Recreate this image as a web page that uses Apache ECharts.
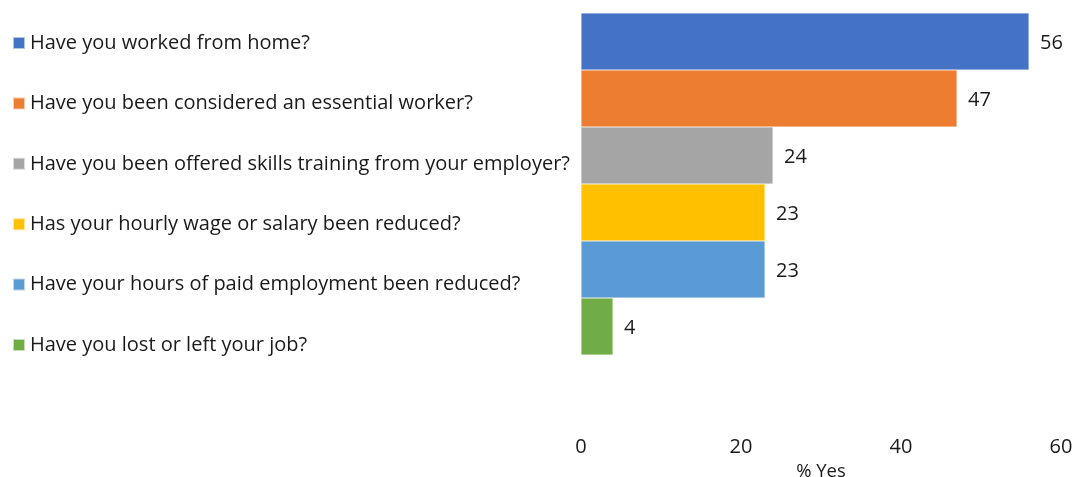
<!DOCTYPE html>
<html>
<head>
<meta charset="utf-8">
<style>
  html, body { margin: 0; padding: 0; background: #ffffff; }
  #chart { width: 1077px; height: 477px; }
</style>
<script src="https://cdn.jsdelivr.net/npm/echarts@6/dist/echarts.min.js"></script>
</head>
<body>
<div id="chart"></div>
<script>
// Survey questions, one bar each
const questions = [
  'Have you worked from home?',
  'Have you been considered an essential worker?',
  'Have you been offered skills training from your employer?',
  'Has your hourly wage or salary been reduced?',
  'Have your hours of paid employment been reduced?',
  'Have you lost or left your job?'
];
// Share answering yes (%)
const yesShare = [56, 47, 24, 23, 23, 4];
const barColors = ['#4472C4', '#ED7D31', '#A5A5A5', '#FFC000', '#5B9BD5', '#70AD47'];
const xTicks = { min: 0, max: 60, interval: 20 };

const FONT = 'Open Sans';
const TEXT = '#1a1a1a';

const chart = echarts.init(document.getElementById('chart'), null, { renderer: 'canvas' });

const series = questions.map((q, i) => ({
  name: q,
  type: 'bar',
  data: [yesShare[i]],
  barGap: '0%',
  barCategoryGap: '0%',
  itemStyle: { color: barColors[i], borderColor: 'rgba(255,255,255,0.6)', borderWidth: 0.5 },
  label: {
    show: true,
    position: 'right',
    distance: 11,
    offset: [0, 2],
    color: TEXT,
    fontFamily: FONT,
    fontSize: 20
  },
  emphasis: { disabled: true }
}));

chart.setOption({
  animation: false,
  backgroundColor: '#ffffff',
  legend: {
    orient: 'vertical',
    left: 7,
    top: 28,
    icon: 'rect',
    itemWidth: 12,
    itemHeight: 12,
    itemGap: 40.4,
    selectedMode: false,
    data: questions,
    textStyle: { fontFamily: FONT, fontSize: 20, color: TEXT }
  },
  grid: {
    left: 581, right: 16, top: 13, height: 342,
    containLabel: false,
    outerBoundsMode: 'none'
  },
  xAxis: {
    type: 'value',
    min: xTicks.min,
    max: xTicks.max,
    interval: xTicks.interval,
    name: '% Yes',
    nameLocation: 'middle',
    nameGap: 101,
    nameTextStyle: { fontFamily: FONT, fontSize: 18.5, color: TEXT },
    axisLine: { show: false },
    axisTick: { show: false },
    splitLine: { show: false },
    axisLabel: { margin: 82, fontFamily: FONT, fontSize: 20, color: TEXT }
  },
  yAxis: {
    type: 'category',
    inverse: true,
    data: [''],
    axisLine: { show: false },
    axisTick: { show: false },
    axisLabel: { show: false }
  },
  series: series
});
</script>
</body>
</html>
